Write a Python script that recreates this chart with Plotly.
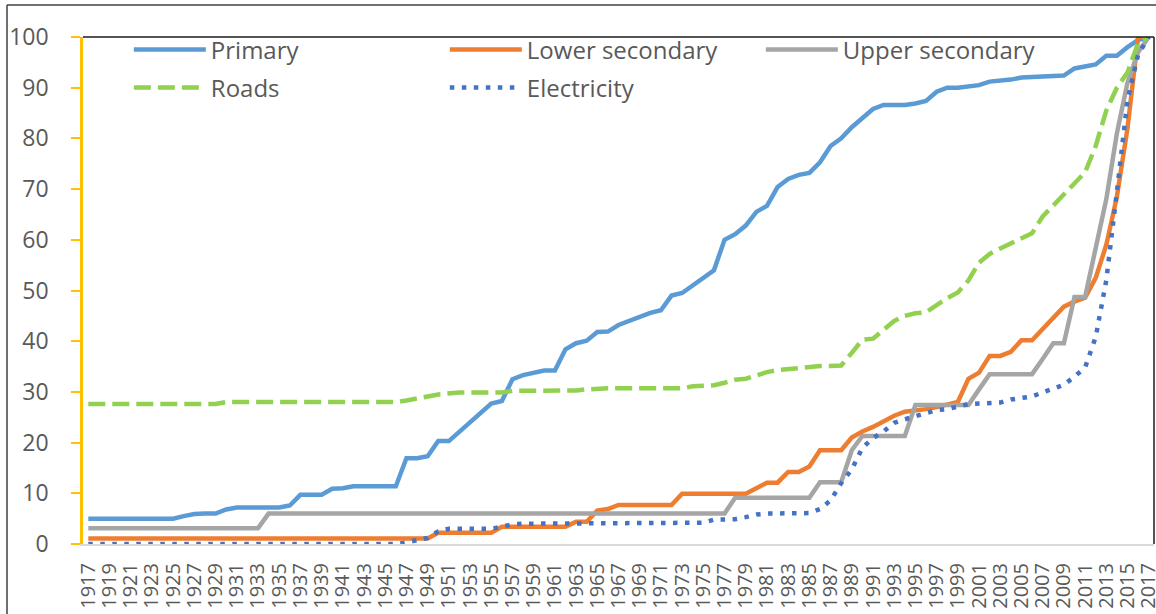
import plotly.graph_objects as go

years = list(range(1917, 2018))

primary = [
    5.0, 5.0, 5.0, 5.0, 5.0, 5.0, 5.0, 5.0, 5.0, 5.5,          # 1917-1926
    5.9, 6.0, 6.0, 6.8, 7.2, 7.2, 7.2, 7.2, 7.2, 7.6,          # 1927-1936
    9.7, 9.7, 9.7, 10.9, 11.0, 11.4, 11.4, 11.4, 11.4, 11.4,   # 1937-1946
    16.9, 16.9, 17.3, 20.3, 20.3, 22.2, 24.0, 26.0, 27.7, 28.2,  # 1947-1956
    32.5, 33.3, 33.8, 34.2, 34.2, 38.4, 39.6, 40.1, 41.8, 41.9,  # 1957-1966
    43.2, 44.0, 44.8, 45.6, 46.1, 49.0, 49.5, 51.0, 52.6, 54.0,  # 1967-1976
    60.0, 61.1, 62.8, 65.5, 66.7, 70.4, 72.0, 72.8, 73.2, 75.3,  # 1977-1986
    78.5, 80.0, 82.2, 84.0, 85.8, 86.6, 86.6, 86.6, 86.9, 87.4,  # 1987-1996
    89.2, 90.0, 90.0, 90.3, 90.5, 91.2, 91.3, 91.6, 92.0, 92.1,  # 1997-2006
    92.4, 92.4, 92.4, 93.8, 94.2, 94.6, 96.3, 96.3, 98.0, 99.4,  # 2007-2016
    100.0,                                                        # 2017
]

lower_secondary = [
    1.1, 1.1, 1.1, 1.1, 1.1, 1.1, 1.1, 1.1, 1.1, 1.1,
    1.1, 1.1, 1.1, 1.1, 1.1, 1.1, 1.1, 1.1, 1.1, 1.1,
    1.1, 1.1, 1.1, 1.1, 1.1, 1.1, 1.1, 1.1, 1.1, 1.1,
    1.1, 1.1, 1.1, 2.2, 2.2, 2.2, 2.2, 2.2, 2.2, 3.4,
    3.4, 3.4, 3.4, 3.4, 3.4, 3.4, 4.4, 4.4, 6.6, 6.9,
    7.7, 7.7, 7.7, 7.7, 7.7, 7.7, 9.9, 9.9, 9.9, 9.9,
    9.9, 9.9, 9.9, 11.0, 12.1, 12.1, 14.2, 14.2, 15.3, 18.5,
    18.5, 18.5, 21.0, 22.2, 23.1, 24.2, 25.3, 26.1, 26.3, 26.6,
    27.0, 27.4, 28.0, 32.6, 33.8, 37.1, 37.1, 37.9, 40.2, 40.2,
    42.3, 44.6, 46.8, 47.8, 48.6, 52.5, 59.0, 68.5, 82.0, 100.0,
    100.0,
]

upper_secondary = [
    3.1, 3.1, 3.1, 3.1, 3.1, 3.1, 3.1, 3.1, 3.1, 3.1,
    3.1, 3.1, 3.1, 3.1, 3.1, 3.1, 3.1, 6.0, 6.0, 6.0,
    6.0, 6.0, 6.0, 6.0, 6.0, 6.0, 6.0, 6.0, 6.0, 6.0,
    6.0, 6.0, 6.0, 6.0, 6.0, 6.0, 6.0, 6.0, 6.0, 6.0,
    6.0, 6.0, 6.0, 6.0, 6.0, 6.0, 6.0, 6.0, 6.0, 6.0,
    6.0, 6.0, 6.0, 6.0, 6.0, 6.0, 6.0, 6.0, 6.0, 6.0,
    6.0, 9.1, 9.1, 9.1, 9.1, 9.1, 9.1, 9.1, 9.1, 12.2,
    12.2, 12.2, 18.5, 21.3, 21.3, 21.3, 21.3, 21.3, 27.4, 27.4,
    27.4, 27.4, 27.4, 27.4, 30.5, 33.5, 33.5, 33.5, 33.5, 33.5,
    36.5, 39.6, 39.6, 48.7, 48.7, 58.5, 68.0, 81.0, 91.0, 97.0,
    100.0,
]

roads = [
    27.6, 27.6, 27.6, 27.6, 27.6, 27.6, 27.6, 27.6, 27.6, 27.6,
    27.6, 27.6, 27.6, 28.0, 28.0, 28.0, 28.0, 28.0, 28.0, 28.0,
    28.0, 28.0, 28.0, 28.0, 28.0, 28.0, 28.0, 28.0, 28.0, 28.0,
    28.3, 28.6, 29.1, 29.5, 29.8, 29.9, 29.9, 29.9, 29.9, 29.9,
    30.2, 30.2, 30.2, 30.2, 30.2, 30.2, 30.3, 30.5, 30.7, 30.7,
    30.7, 30.7, 30.7, 30.7, 30.7, 30.7, 30.7, 31.1, 31.2, 31.3,
    31.8, 32.4, 32.6, 33.3, 33.9, 34.3, 34.5, 34.8, 35.1, 35.1,
    35.1, 35.2, 37.7, 40.3, 40.5, 42.2, 44.0, 45.0, 45.5, 45.7,
    47.1, 48.5, 49.6, 52.0, 55.5, 57.2, 58.3, 59.3, 60.3, 61.3,
    64.6, 66.8, 68.8, 71.0, 73.3, 78.5, 85.5, 90.0, 93.0, 98.8,
    100.0,
]

electricity = [
    0.0, 0.0, 0.0, 0.0, 0.0, 0.0, 0.0, 0.0, 0.0, 0.0,
    0.0, 0.0, 0.0, 0.0, 0.0, 0.0, 0.0, 0.0, 0.0, 0.0,
    0.0, 0.0, 0.0, 0.0, 0.0, 0.0, 0.0, 0.0, 0.0, 0.0,
    0.3, 0.8, 1.2, 2.5, 3.0, 3.0, 3.0, 3.0, 3.0, 3.4,
    3.9, 4.0, 4.0, 4.0, 4.0, 4.0, 4.0, 4.0, 4.0, 4.0,
    4.0, 4.0, 4.0, 4.0, 4.0, 4.0, 4.0, 4.0, 4.2, 4.8,
    4.9, 4.9, 5.3, 5.8, 6.0, 6.0, 6.0, 6.0, 6.1, 6.9,
    8.6, 12.0, 14.7, 19.0, 20.9, 22.2, 23.9, 24.6, 25.2, 25.9,
    26.4, 26.6, 27.2, 27.6, 27.7, 27.7, 27.9, 28.5, 28.8, 29.1,
    29.9, 30.6, 31.4, 33.0, 34.8, 40.8, 52.0, 69.5, 87.5, 96.5,
    100.0,
]

x_tick_years = list(range(1917, 2018, 2))
y_ticks = list(range(0, 101, 10))

FONT = "Open Sans"
TXT = "#595959"

fig = go.Figure()

series = [
    ("Primary", primary, "#5B9BD5", "solid", "legend"),
    ("Lower secondary", lower_secondary, "#ED7D31", "solid", "legend"),
    ("Upper secondary", upper_secondary, "#A5A5A5", "solid", "legend"),
    ("Roads", roads, "#92D050", "17px,7px", "legend2"),
    ("Electricity", electricity, "#4472C4", "4.5px,7.5px", "legend2"),
]

for name, vals, color, dash, leg in series:
    fig.add_trace(go.Scatter(
        x=years, y=vals, name=name, mode="lines",
        line=dict(color=color, width=4.5, dash=dash),
        legend=leg,
    ))

legend_common = dict(
    orientation="h", xanchor="left", yanchor="middle",
    font=dict(family=FONT, size=24, color=TXT),
    bgcolor="rgba(0,0,0,0)", itemwidth=72, entrywidth=229,
    itemclick=False,
)

fig.update_layout(
    width=1156, height=614,
    margin=dict(l=83, r=2, t=37, b=70, autoexpand=False),
    paper_bgcolor="white", plot_bgcolor="white",
    font=dict(family=FONT, color=TXT),
    legend=dict(x=0.0428, y=(544 - 50) / 507, **legend_common),
    legend2=dict(x=0.0428, y=(544 - 88) / 507, **legend_common),
    xaxis=dict(
        range=[1916.5, 2017.5], tickmode="array", tickvals=x_tick_years,
        ticktext=[str(y) for y in x_tick_years], tickangle=-90,
        tickfont=dict(family=FONT, size=20, color=TXT),
        showgrid=False, zeroline=False, showline=True,
        linecolor="#D9D9D9", linewidth=2, ticks="",
        ticklabelstandoff=9, automargin=False, ticklabeloverflow="allow",
    ),
    yaxis=dict(
        range=[0, 100], tickmode="array", tickvals=y_ticks,
        tickfont=dict(family=FONT, size=23, color=TXT),
        showgrid=False, zeroline=False, showline=True,
        linecolor="#FFC000", linewidth=2.5, ticks="outside",
        tickcolor="#FFC000", ticklen=9, tickwidth=2,
        ticklabelstandoff=18, automargin=False, ticklabeloverflow="allow",
    ),
    shapes=[
        dict(type="line", xref="paper", yref="paper", x0=0, x1=1, y0=1, y1=1,
             line=dict(color="#1a1a1a", width=1.5)),
        dict(type="line", xref="paper", yref="paper", x0=1, x1=1, y0=0, y1=1,
             line=dict(color="#1a1a1a", width=1.5)),
        dict(type="line", xref="paper", yref="paper",
             x0=(7 - 83) / 1071, x1=(7 - 83) / 1071, y0=(544 - 5) / 507, y1=(544 - 620) / 507,
             line=dict(color="#404040", width=1.5)),
        dict(type="line", xref="paper", yref="paper",
             x0=(7 - 83) / 1071, x1=(1160 - 83) / 1071, y0=(544 - 5) / 507, y1=(544 - 5) / 507,
             line=dict(color="#404040", width=1.5)),
    ],
)

fig.write_html("out.html", config={"displayModeBar": False},
               post_script="document.body.style.margin='0';")
